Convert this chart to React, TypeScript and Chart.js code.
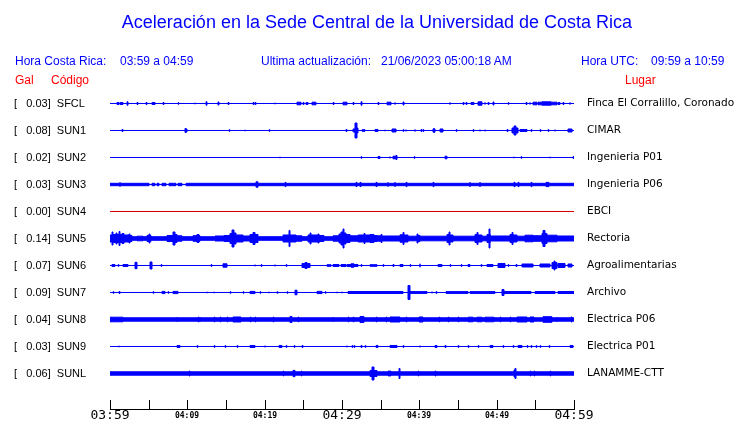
import { useEffect, useRef } from 'react';
import { Chart, registerables } from 'chart.js';

Chart.register(...registerables);

// ---- data ----
const stationCodes = ['SFCL', 'SUN1', 'SUN2', 'SUN3', 'SUN4', 'SUN5', 'SUN6', 'SUN7', 'SUN8', 'SUN9', 'SUNL'];
const placeNames = [
  'Finca El Corralillo, Coronado', 'CIMAR', 'Ingenieria P01', 'Ingenieria P06', 'EBCI', 'Rectoria',
  'Agroalimentarias', 'Archivo', 'Electrica P06', 'Electrica P01', 'LANAMME-CTT',
];
const galValues = [0.03, 0.08, 0.02, 0.03, 0.0, 0.14, 0.07, 0.09, 0.04, 0.03, 0.06];
const timeLabels = ['03:59', '', '04:09', '', '04:19', '', '04:29', '', '04:39', '', '04:49', '', '04:59'];

// background (noise) half-amplitude of each trace
const baseAmp = [0.5, 0.5, 0.5, 1.7, 0.5, 2.3, 0.5, 0.5, 2.2, 0.5, 2.2];

// bursts: [start minute, end minute, half-amplitude]
type Burst = [number, number, number];
const sfclBursts: Burst[] = [
  [0.86, 1.21, 1.5], [1.29, 1.64, 1.5], [2.2, 2.33, 2.2], [3.5, 3.6, 1.5], [4.7, 4.8, 1.5], [5.39, 5.82, 1.5],
  [6.85, 6.95, 1.5], [8.83, 8.93, 1.2], [10.95, 11.05, 1.2], [12.45, 12.6, 2.2], [13.95, 14.05, 2], [15.25, 15.35, 1.5],
  [18.5, 18.6, 1.5], [18.72, 18.82, 1.5], [21.3, 21.4, 1.2], [24.14, 24.66, 1.8], [24.95, 25.05, 1.5], [25.34, 25.65, 1.5],
  [26.08, 26.64, 1.8], [28.83, 28.93, 1.5], [30.09, 30.69, 1.8], [31.42, 31.52, 1.5], [32.5, 32.6, 2.2],
  [34.65, 34.75, 1.5], [35.78, 36.29, 1.8], [36.8, 36.9, 1.5], [37.88, 37.98, 2], [43.91, 44.01, 1.5], [45.64, 45.74, 1.5],
  [46.07, 46.17, 1.5], [46.68, 47.07, 1.5], [47.63, 48.15, 2.2], [48.44, 48.54, 1.5], [48.87, 48.97, 1.5], [49.52, 49.62, 2],
  [51.46, 51.56, 1.2], [53.83, 53.93, 1.5], [54.26, 54.36, 1.5], [54.74, 55.17, 1.8], [55.39, 55.9, 1.8], [55.9, 57.0, 2.2],
  [57.0, 57.76, 1.8], [57.97, 58.19, 1.5], [58.57, 58.67, 1.5], [59.43, 59.53, 1.5],
];
const sun1Bursts: Burst[] = [
  [1.6, 1.7, 1.5], [9.7, 9.8, 2.5], [9.85, 9.95, 2], [15.4, 15.5, 1.2], [17.4, 17.5, 1.2], [20.55, 20.65, 1.2],
  [30.55, 30.65, 1.5], [31.4, 31.64, 2], [31.64, 31.9, 8], [31.9, 32.07, 3], [32.6, 33.0, 1.3],
  [34.27, 34.7, 1.5], [35.5, 35.6, 1.2], [36.42, 36.98, 2], [37.88, 37.98, 1.3], [38.23, 38.33, 1.3], [39.4, 39.5, 1.5],
  [40.25, 40.35, 1.5], [40.5, 40.6, 1.3], [41.81, 42.03, 2.2], [42.67, 43.1, 2], [44.78, 44.88, 1.3], [46.93, 47.03, 1.3],
  [47.8, 47.9, 1.3], [48.45, 48.55, 1.3], [51.33, 51.43, 1.5], [51.94, 52.25, 3], [52.25, 52.55, 5], [52.55, 52.8, 3],
  [53.02, 53.88, 1.5], [54.48, 54.58, 1.3], [55.64, 55.74, 1.3], [56.63, 56.73, 1.3], [57.5, 57.6, 1.3], [59.27, 59.7, 2],
];
const sun2Bursts: Burst[] = [
  [21.93, 22.03, 1.2], [32.5, 32.6, 1.2], [34.7, 34.9, 1.5], [36.15, 36.25, 1.3], [36.64, 37.0, 1.8], [37.0, 37.1, 2.5],
  [39.3, 39.4, 1.2], [43.32, 43.53, 1.8], [52.2, 52.3, 1.2], [53.2, 53.3, 1.2], [56.85, 56.95, 1.2], [59.85, 59.95, 1.5],
];
const sun3Bursts: Burst[] = [
  [1.25, 1.35, 2.6], [5.0, 5.4, 0.6], [5.8, 6.1, 0.6], [6.4, 6.7, 0.6], [7.3, 7.6, 0.6], [8.5, 8.8, 0.6], [9.3, 9.8, 0.6],
  [18.9, 19.1, 3.2], [22.6, 22.7, 2.6], [31.8, 31.9, 2.6], [32.3, 32.4, 2.6],
  [34.4, 34.5, 2.6], [35.9, 36.0, 2.6], [36.8, 36.9, 2.8], [38.3, 38.4, 2.6], [41.8, 41.9, 2.6], [46.5, 46.6, 2.8],
  [47.8, 47.9, 2.8], [52.3, 52.4, 2.7], [52.8, 52.9, 2.6], [54.5, 54.6, 2.6], [56.4, 56.8, 2.6],
];
const sun4Bursts: Burst[] = [];
const sun5Bursts: Burst[] = [
  [0, 0.3, 4], [0.3, 0.45, 7], [0.45, 0.8, 4.5], [0.8, 0.95, 6], [0.95, 1.2, 4.5], [1.2, 1.35, 7.5], [1.35, 1.6, 4.5],
  [1.6, 1.75, 5.5], [1.75, 2.4, 4], [2.4, 2.55, 5], [2.55, 2.8, 3.5],
  [3.5, 4.3, 2.8], [4.8, 5.0, 3.5], [5.0, 5.15, 5], [5.15, 5.3, 3.5],
  [7.35, 8.2, 3.5], [8.2, 8.35, 7], [8.35, 8.6, 4.5], [8.6, 9.3, 3.2],
  [10.7, 11.3, 3.3], [11.3, 11.45, 4.5], [11.45, 11.6, 3.3],
  [13.6, 14.7, 3], [14.7, 15.5, 3.5], [15.5, 15.8, 5.5], [15.8, 16.0, 9], [16.0, 16.3, 6], [16.3, 17.2, 4],
  [17.2, 18.1, 3], [18.1, 18.5, 4.5], [18.5, 18.7, 6.5], [18.7, 19.1, 4.5],
  [22.4, 23.1, 4], [23.1, 23.25, 8.5], [23.25, 24.0, 4], [24.0, 24.8, 3.2], [25.6, 25.8, 4], [25.8, 25.95, 6],
  [25.95, 26.9, 4], [26.9, 27.05, 5], [27.05, 27.7, 3.5],
  [28.8, 29.6, 3.2], [29.6, 29.9, 5], [29.9, 30.1, 7], [30.1, 30.25, 10], [30.25, 30.5, 6], [30.5, 31.0, 4.5],
  [31.0, 32.1, 3.2], [32.1, 32.8, 4], [32.8, 32.95, 5.5], [32.95, 33.62, 4],
  [33.62, 34.2, 4.5], [34.2, 34.48, 3.5], [34.48, 35.0, 3.2], [35.0, 35.15, 4.5], [35.15, 37.5, 3], [37.5, 37.9, 4.2],
  [37.9, 38.05, 6.5], [38.05, 38.58, 4], [38.58, 39.66, 2.8], [39.66, 39.8, 5], [39.8, 40.1, 3.5], [40.1, 43.53, 2.8],
  [43.53, 43.85, 4.5], [43.85, 44.0, 7], [44.0, 44.4, 4], [44.4, 47.2, 2.8], [47.2, 47.5, 4.5], [47.5, 47.65, 6.5],
  [47.65, 48.06, 4], [48.06, 48.7, 2.8], [48.7, 48.95, 4.5], [48.95, 49.1, 10], [49.1, 49.2, 4.5], [49.2, 51.72, 3],
  [51.72, 51.95, 4.5], [51.95, 52.1, 6.5], [52.1, 52.6, 4], [52.6, 53.66, 2.8], [53.66, 54.74, 3.8], [54.74, 55.82, 3.3],
  [55.82, 56.05, 5.5], [56.05, 56.2, 8.5], [56.2, 56.47, 5.5], [56.47, 57.76, 3.8], [57.76, 60, 3],
];
const sun6Bursts: Burst[] = [
  [0.2, 0.65, 1.5], [1.05, 1.15, 1.3], [1.72, 2.37, 1.5], [3.2, 3.45, 3.7], [5.17, 5.39, 4], [6.63, 6.73, 1.3],
  [13.1, 13.2, 1.3], [14.66, 15.09, 2.2], [18.7, 18.8, 1.3], [19.55, 19.65, 1.3], [21.3, 21.4, 1.3], [22.8, 22.9, 1.3],
  [24.78, 25.2, 2.5], [25.2, 25.5, 3.5], [25.5, 25.86, 2.5], [28.0, 28.6, 1.3], [28.9, 29.6, 1.5], [29.9, 30.5, 1.5],
  [30.7, 31.2, 1.5], [31.2, 31.6, 2.2], [31.6, 32.1, 1.5], [32.5, 32.6, 1.3],
  [33.62, 34.5, 1.3], [35.3, 35.4, 1.3], [36.6, 36.7, 1.5], [37.5, 37.95, 1.5], [38.8, 38.9, 1.3], [40.05, 40.15, 2.2],
  [42.46, 42.9, 1.5], [43.95, 44.05, 1.3], [45.45, 45.55, 1.3], [46.3, 46.5, 1.5], [48.0, 48.1, 1.3], [48.7, 49.57, 1.5],
  [50.2, 51.07, 2.5], [51.45, 51.55, 1.3], [52.55, 52.65, 1.5], [53.23, 54.74, 2], [55.6, 56.9, 2], [57.1, 57.4, 3.5],
  [57.4, 57.55, 5], [57.55, 57.76, 3.5], [57.97, 58.84, 2.5], [59.27, 59.7, 2],
];
const sun7Bursts: Burst[] = [
  [0.4, 0.5, 1.2], [1.2, 1.3, 1.5], [5.6, 5.7, 1.2], [6.68, 7.11, 1.6], [7.5, 7.6, 1.2], [8.19, 8.84, 1.6],
  [12.5, 12.6, 1.2], [13.4, 13.5, 1.2], [15.5, 15.6, 1.2], [17.2, 17.3, 1.2], [18.1, 18.75, 1.6], [19.4, 19.5, 1.2],
  [20.5, 20.6, 1.2], [21.6, 21.7, 1.2], [22.9, 23.0, 1.2], [23.92, 24.14, 2.8], [26.72, 27.37, 1.6], [27.8, 27.9, 1.2],
  [29.3, 29.4, 1.2], [29.95, 30.05, 1.2], [30.8, 33.62, 1.5],
  [33.62, 37.93, 1.5], [38.58, 38.8, 7.5], [38.8, 40.95, 1.4], [41.6, 41.7, 1.3], [42.2, 42.3, 1.3], [43.5, 46.3, 1.4],
  [46.6, 49.8, 1.4], [50.75, 50.95, 3.5], [51.0, 54.5, 1.5], [54.9, 57.5, 1.5], [57.9, 60, 1.5],
];
const sun8Bursts: Burst[] = [
  [0, 1.72, 2.8], [8.6, 8.7, 2.8], [11.4, 11.5, 2.8], [11.6, 11.7, 2.8], [13.5, 13.6, 2.8], [14.2, 14.3, 2.8],
  [15.1, 15.2, 2.8], [15.95, 17.0, 3], [18.1, 18.2, 2.8], [18.75, 18.85, 2.8], [21.1, 21.2, 2.8], [23.3, 23.5, 3.5],
  [24.35, 24.45, 2.8], [28.8, 28.9, 2.8], [30.8, 30.9, 2.8], [31.45, 31.55, 2.8], [32.3, 32.8, 3.5],
  [34.4, 34.5, 2.8], [35.7, 35.8, 2.8], [36.2, 37.5, 3], [38.3, 38.4, 2.8], [39.9, 40.5, 3], [42.6, 42.7, 2.8],
  [43.7, 43.8, 2.8], [45.0, 45.1, 2.8], [46.3, 46.9, 2.8], [47.4, 48.1, 2.8], [48.5, 49.6, 2.8], [50.4, 50.5, 2.8],
  [51.7, 51.8, 2.8], [52.6, 53.9, 3], [54.3, 54.8, 3], [56.0, 57.1, 3.3], [57.75, 57.85, 2.8], [59.6, 59.7, 3],
];
const sun9Bursts: Burst[] = [
  [1.1, 1.2, 1.2], [8.6, 9.05, 1.5], [11.3, 11.4, 1.3], [13.5, 13.6, 1.3], [14.85, 14.95, 1.3], [16.45, 16.55, 1.3],
  [18.1, 18.75, 1.5], [20.0, 20.1, 1.3], [21.9, 22.3, 1.5], [22.8, 22.9, 1.3], [23.8, 23.9, 1.3], [24.8, 24.9, 1.5],
  [30.6, 30.7, 1.3], [31.3, 31.4, 1.3], [31.6, 31.7, 1.3], [32.5, 32.6, 1.5], [33.0, 33.1, 1.3],
  [34.4, 34.6, 1.5], [36.2, 37.07, 1.5], [37.9, 38.0, 1.3], [40.05, 40.15, 1.3], [42.0, 42.3, 1.5], [43.3, 43.5, 1.5],
  [45.0, 45.1, 1.3], [46.3, 46.4, 1.3], [47.6, 47.7, 1.3], [49.1, 49.57, 1.5], [50.85, 50.95, 1.3], [52.1, 52.2, 1.3],
  [52.8, 53.3, 1.5], [53.9, 54.0, 1.3], [54.5, 54.6, 1.3], [55.1, 55.2, 1.3], [55.6, 55.7, 1.3], [56.8, 56.9, 1.3],
  [59.5, 59.9, 1.5],
];
const sunlBursts: Burst[] = [
  [10.2, 10.3, 2.9], [22.35, 22.45, 2.8], [23.7, 23.9, 3.6], [24.7, 24.8, 2.8],
  [33.62, 33.9, 3.5], [33.9, 34.2, 7], [34.2, 34.5, 3.5], [35.9, 36.3, 2.9], [37.35, 37.5, 5.5], [39.8, 39.9, 2.8],
  [42.0, 42.1, 2.9], [52.2, 52.35, 4], [52.35, 52.5, 5.5], [54.3, 54.4, 2.8], [54.8, 54.9, 2.8], [56.9, 57.0, 2.8],
];

const allBursts = [sfclBursts, sun1Bursts, sun2Bursts, sun3Bursts, sun4Bursts, sun5Bursts, sun6Bursts,
  sun7Bursts, sun8Bursts, sun9Bursts, sunlBursts];
const traceColors = ['#0000ff', '#0000ff', '#0000ff', '#0000ff', '#d40000', '#0000ff', '#0000ff',
  '#0000ff', '#0000ff', '#0000ff', '#0000ff'];

// ---- rendering helpers ----
const PX = 1 / 27; // trace spacing is 27 px -> y-units per pixel
const HALF_STROKE = 0.5;

function envelope(k: number, base: number, segs: Burst[], sign: number) {
  const off = (a: number) => k + sign * Math.max(a - HALF_STROKE, 0) * PX;
  const pts: { x: number; y: number }[] = [{ x: 0, y: off(base) }];
  for (const [s, e, a] of segs) {
    pts.push({ x: s, y: off(a) });
    pts.push({ x: e, y: off(base) });
  }
  pts.push({ x: 60, y: off(base) });
  return pts;
}

const textStyle = (left: number, top: number, color: string, size = 12): React.CSSProperties => ({
  position: 'absolute', left, top, color, fontFamily: '"Liberation Sans", Arial, sans-serif',
  fontSize: size, lineHeight: 1, whiteSpace: 'pre',
});

export default function App() {
  const ref = useRef<HTMLCanvasElement | null>(null);

  useEffect(() => {
    if (!ref.current) return;
    const datasets: any[] = [];
    allBursts.forEach((segs, k) => {
      const color = traceColors[k];
      const common = {
        borderColor: color, backgroundColor: color, borderWidth: 1, pointRadius: 0,
        stepped: true, tension: 0, yAxisID: 'y', xAxisID: 'x',
      };
      datasets.push({ ...common, label: stationCodes[k] + '-lo', data: envelope(k, baseAmp[k], segs, 1), fill: false });
      datasets.push({ ...common, label: stationCodes[k] + '-hi', data: envelope(k, baseAmp[k], segs, -1), fill: '-1' });
    });

    const yMin = -0.5;
    const yMax = 11.315;
    const noVPad = (s: any) => { s.paddingTop = 0; s.paddingBottom = 0; };

    const chart = new Chart(ref.current, {
      type: 'line',
      data: { datasets },
      options: {
        animation: false,
        responsive: false,
        events: [],
        layout: { padding: { left: 14, top: 90, right: 0, bottom: 0 } },
        plugins: { legend: { display: false }, tooltip: { enabled: false }, title: { display: false } },
        scales: {
          x: {
            type: 'linear', position: 'bottom', min: 0, max: 60, alignToPixels: true,
            grid: { drawOnChartArea: false, drawTicks: true, tickLength: -9, color: '#000', lineWidth: 1 },
            border: { display: true, color: '#000', width: 1 },
            ticks: {
              stepSize: 5, autoSkip: false, maxRotation: 0, minRotation: 0, padding: 8, color: '#000',
              callback: (v: any) => timeLabels[Math.round(Number(v) / 5)] ?? '',
              font: (ctx: any) => (ctx.index % 6 === 0
                ? { family: '"DejaVu Sans Mono"', size: 13, lineHeight: '16px' }
                : { family: '"DejaVu Sans Mono"', size: 8, weight: 'bold', lineHeight: '16px' }),
            },
            afterFit: (s: any) => { s.height = 14; },
          },
          y: {
            type: 'linear', position: 'left', min: yMin, max: yMax, reverse: true,
            grid: { display: false, drawTicks: false }, border: { display: false },
            afterBuildTicks: (s: any) => { s.ticks = stationCodes.map((_, i) => ({ value: i })); },
            ticks: {
              crossAlign: 'far', color: '#000', padding: 0,
              font: { family: '"Liberation Sans"', size: 11 },
              callback: (_v: any, i: number) => `[   ${galValues[i].toFixed(2)}]  ${stationCodes[i]}`,
            },
            afterFit: (s: any) => { s.width = 96; noVPad(s); },
          },
          y2: {
            type: 'linear', position: 'right', min: yMin, max: yMax, reverse: true,
            grid: { display: false, drawTicks: false }, border: { display: false },
            afterBuildTicks: (s: any) => { s.ticks = placeNames.map((_, i) => ({ value: i })); },
            ticks: {
              crossAlign: 'near', color: '#000', padding: 13,
              font: { family: '"DejaVu Sans"', size: 10.5 },
              callback: (_v: any, i: number) => placeNames[i],
            },
            afterFit: (s: any) => { s.width = 166; noVPad(s); },
          },
        },
      } as any,
    });
    return () => chart.destroy();
  }, []);

  return (
    <div style={{ position: 'fixed', left: 0, top: 0, width: 740, height: 423, background: '#fff', overflow: 'hidden' }}>
      <canvas ref={ref} width={740} height={423} style={{ position: 'absolute', left: 0, top: 0 }} />
      <div style={{ position: 'absolute', left: 0, top: 13, width: 754, textAlign: 'center', color: '#0000ff',
        fontFamily: '"Liberation Sans", Arial, sans-serif', fontSize: 18, lineHeight: 1 }}>
        Aceleración en la Sede Central de la Universidad de Costa Rica
      </div>
      <span style={textStyle(15, 55, '#0000ff')}>Hora Costa Rica:</span>
      <span style={textStyle(120, 55, '#0000ff')}>03:59 a 04:59</span>
      <span style={textStyle(261, 55, '#0000ff')}>Ultima actualización:</span>
      <span style={textStyle(381, 55, '#0000ff')}>21/06/2023 05:00:18 AM</span>
      <span style={textStyle(581, 55, '#0000ff')}>Hora UTC:</span>
      <span style={textStyle(651, 55, '#0000ff')}>09:59 a 10:59</span>
      <span style={textStyle(15, 74, '#ff0000')}>Gal</span>
      <span style={textStyle(51, 74, '#ff0000')}>Código</span>
      <span style={textStyle(625, 74, '#ff0000')}>Lugar</span>
    </div>
  );
}
